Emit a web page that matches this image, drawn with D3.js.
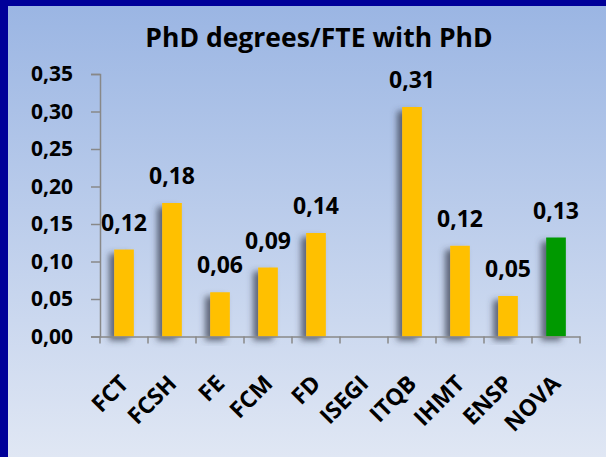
<!DOCTYPE html>
<html><head><meta charset="utf-8">
<script src="https://cdn.jsdelivr.net/npm/d3@7"></script>
<style>body{margin:0;padding:0;overflow:hidden;background:#fff}</style>
</head><body>
<svg id="c" width="606" height="457"></svg>
<script>
const categories = ["FCT","FCSH","FE","FCM","FD","ISEGI","ITQB","IHMT","ENSP","NOVA"];
const values = [0.116, 0.178, 0.059, 0.092, 0.138, 0, 0.306, 0.121, 0.054, 0.132];
const valueLabels = ["0,12","0,18","0,06","0,09","0,14","","0,31","0,12","0,05","0,13"];
const yTicks = [0,0.05,0.10,0.15,0.20,0.25,0.30,0.35];
const title = "PhD degrees/FTE with PhD";

const W = 606, H = 457;
const svg = d3.select("#c");
const font = "'Open Sans', sans-serif";
const defs = svg.append("defs");
const g = defs.append("linearGradient").attr("id","bg").attr("x1",0).attr("y1",0).attr("x2",0).attr("y2",1);
g.append("stop").attr("offset","0%").attr("stop-color","#9ab5e3");
g.append("stop").attr("offset","100%").attr("stop-color","#e0e7f4");
const f = defs.append("filter").attr("id","sh").attr("x","-80%").attr("y","-20%").attr("width","240%").attr("height","140%");
f.append("feGaussianBlur").attr("in","SourceAlpha").attr("stdDeviation",3).attr("result","b");
f.append("feOffset").attr("in","b").attr("dx",-5).attr("dy",4).attr("result","o");
f.append("feFlood").attr("flood-color","#3a4050").attr("flood-opacity",0.75);
f.append("feComposite").attr("in2","o").attr("operator","in").attr("result","s");
const m = f.append("feMerge"); m.append("feMergeNode").attr("in","s"); m.append("feMergeNode").attr("in","SourceGraphic");

svg.append("rect").attr("width",W).attr("height",H).attr("fill","url(#bg)");
svg.append("rect").attr("x",0).attr("y",0).attr("width",W).attr("height",6).attr("fill","#000099");
svg.append("rect").attr("x",0).attr("y",0).attr("width",8).attr("height",H).attr("fill","#000099");

const x = d3.scaleBand().domain(categories).range([100,580]).paddingInner(0.59).paddingOuter(0.295);
const xb = d3.scaleBand().domain(categories).range([100,580]);
const y = d3.scaleLinear().domain([0,0.35]).range([336.5,74]);

svg.append("text").attr("x",319).attr("y",47).attr("text-anchor","middle")
  .attr("font-family",font).attr("font-weight","bold").attr("font-size",26.5).attr("fill","#000").text(title);

// bars
svg.append("g").selectAll("rect").data(categories).join("rect")
  .attr("x",d=>x(d)).attr("width",x.bandwidth())
  .attr("y",(d,i)=>y(values[i])).attr("height",(d,i)=>y(0)-y(values[i]))
  .attr("fill",d=>d==="NOVA"?"#009900":"#ffc000")
  .attr("filter",(d,i)=>values[i]>0?"url(#sh)":null);

// value labels
svg.append("g").selectAll("text").data(categories).join("text")
  .attr("x",d=>xb(d)+xb.bandwidth()/2).attr("y",(d,i)=>y(values[i])-19)
  .attr("text-anchor","middle").attr("font-family",font).attr("font-weight","bold")
  .attr("font-size",23).attr("fill","#000").text((d,i)=>valueLabels[i]);

// y axis
const ya = svg.append("g").attr("transform","translate(100,0)")
  .call(d3.axisLeft(y).tickValues(yTicks).tickSize(9).tickPadding(18).tickFormat(d=>d3.format(".2f")(d).replace(".",",")));
ya.select(".domain").attr("stroke","#888").attr("stroke-width",1.5);
ya.selectAll(".tick line").attr("stroke","#888").attr("stroke-width",1.5);
ya.selectAll("text").attr("font-family",font).attr("font-weight","bold").attr("font-size",21).attr("fill","#000");

// x axis
const xa = svg.append("g").attr("transform","translate(0,336.5)")
  .call(d3.axisBottom(xb).tickSize(0).tickFormat(""));
xa.select(".domain").attr("stroke","#888").attr("stroke-width",1.5);
const tickPos = categories.map(d=>xb(d)).concat([580]);
xa.selectAll(".tk").data(tickPos).join("line").attr("class","tk")
  .attr("x1",d=>d).attr("x2",d=>d).attr("y1",0).attr("y2",7).attr("stroke","#888").attr("stroke-width",1.5);
svg.append("g").selectAll("text").data(categories).join("text")
  .attr("transform",d=>`translate(${xb(d)+xb.bandwidth()/2+6},${385}) rotate(-45)`)
  .attr("text-anchor","end").attr("font-family",font).attr("font-weight","bold")
  .attr("font-size",23).attr("fill","#000").text(d=>d);
</script>
</body></html>
